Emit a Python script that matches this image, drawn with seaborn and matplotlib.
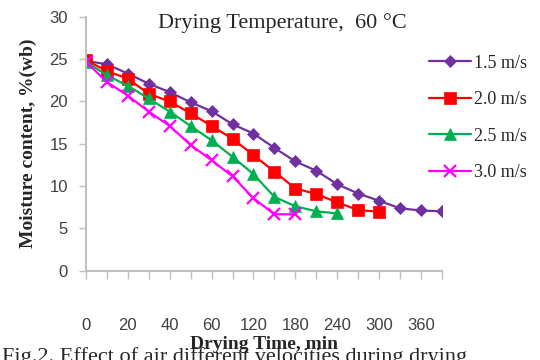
import matplotlib
matplotlib.use("Agg")
import matplotlib.pyplot as plt
import seaborn as sns
import pandas as pd

# category axis (Excel style): one tick per reading, every other one labelled
time_labels = ['0', '', '20', '', '40', '', '60', '', '120', '', '180', '',
               '240', '', '300', '', '360', '']

mc_15 = [24.8, 24.4, 23.3, 22.1, 21.1, 19.9, 18.85, 17.3, 16.2, 14.5, 12.9,
         11.8, 10.2, 9.1, 8.25, 7.35, 7.1, 7.0]
mc_20 = [24.9, 23.6, 22.7, 20.9, 20.0, 18.6, 17.1, 15.6, 13.65, 11.7, 9.7,
         9.05, 8.05, 7.15, 6.95]
mc_25 = [24.7, 23.1, 21.85, 20.35, 18.8, 17.1, 15.4, 13.45, 11.4, 8.7, 7.6,
         7.0, 6.75]
mc_30 = [24.7, 22.3, 20.7, 18.8, 17.1, 14.85, 13.05, 11.15, 8.55, 6.65, 6.65]

series_names = ['1.5 m/s', '2.0 m/s', '2.5 m/s', '3.0 m/s']
series_values = [mc_15, mc_20, mc_25, mc_30]

styles = {
    '1.5 m/s': dict(color='#7030A0', marker='D', ms=6.5),
    '2.0 m/s': dict(color='#FF0000', marker='s', ms=8),
    '2.5 m/s': dict(color='#00B050', marker='^', ms=8.5),
    '3.0 m/s': dict(color='#FF00FF', marker='x', ms=8),
}

rows = []
for name, vals in zip(series_names, series_values):
    for i, v in enumerate(vals):
        rows.append([name, i, v])
df = pd.DataFrame(rows, columns=['Velocity', 'Step', 'Moisture'])

sns.set_style("white")
fig = plt.figure(figsize=(5.4, 3.6), dpi=100)
ax = fig.add_axes([0.159, 0.2486, 0.6596, 0.7044])

for name in series_names:
    st = styles[name]
    sub = df[df['Velocity'] == name]
    sns.lineplot(data=sub, x='Step', y='Moisture', ax=ax, color=st['color'],
                 marker=st['marker'], markersize=st['ms'], linewidth=1.6,
                 markeredgecolor=st['color'], markerfacecolor=st['color'],
                 markeredgewidth=1.6 if st['marker'] == 'x' else 0.5,
                 label=name)

ax.set_xlim(0, len(time_labels) - 1)
ax.set_ylim(0, 30)
ax.set_xticks(range(len(time_labels)))
ax.set_xticklabels(time_labels)
ax.set_yticks(range(0, 31, 5))

gray = '#c0c0c0'
for side in ['top', 'right']:
    ax.spines[side].set_visible(False)
for side in ['left', 'bottom']:
    ax.spines[side].set_color(gray)
    ax.spines[side].set_linewidth(1.5)
ax.tick_params(axis='x', direction='out', length=6, width=1, color=gray,
               pad=28, labelsize=12, labelcolor='#404040', bottom=True)
ax.tick_params(axis='y', direction='out', length=5, width=1, color=gray,
               pad=8, labelsize=12, labelcolor='#404040', left=True)
for lbl in ax.get_xticklabels() + ax.get_yticklabels():
    lbl.set_fontfamily('Liberation Sans')

ax.set_xlabel('Drying Time, min', fontfamily='Liberation Serif',
              fontweight='bold', fontsize=14, labelpad=2)
ax.set_ylabel('Moisture content, %(wb)', fontfamily='Liberation Serif',
              fontweight='bold', fontsize=14, labelpad=9)

ax.text(0.553, 0.975, 'Drying Temperature,  60 \u00b0C', transform=ax.transAxes,
        ha='center', va='center', fontfamily='Liberation Serif', fontsize=16)

leg = ax.legend(loc='upper left', bbox_to_anchor=(0.765, 0.893),
                bbox_transform=fig.transFigure, frameon=False,
                handlelength=2.3, handletextpad=0.2, labelspacing=1.08,
                prop={'family': 'Liberation Serif', 'size': 13})

fig.text(0.004, 0.037, 'Fig.2. Effect of air different velocities during drying',
         ha='left', va='top', fontfamily='Liberation Serif', fontsize=16)

fig.savefig('out.png', dpi=100)
